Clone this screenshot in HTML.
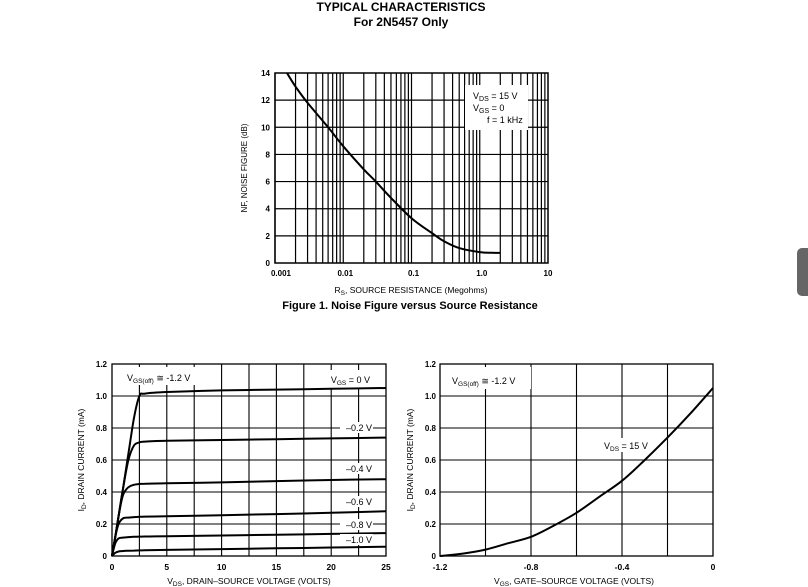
<!DOCTYPE html>
<html><head><meta charset="utf-8">
<style>
body{margin:0;background:#fff;width:808px;height:587px;overflow:hidden;font-family:"Liberation Sans",sans-serif;}
svg{position:absolute;left:0;top:0}
text{font-family:"Liberation Sans",sans-serif;fill:#000}
</style></head>
<body>
<svg id="s" width="808" height="587">
<text x="401" y="11" font-size="12" font-weight="bold" text-anchor="middle">TYPICAL CHARACTERISTICS</text>
<text x="401" y="26" font-size="12" font-weight="bold" text-anchor="middle">For 2N5457 Only</text>
<text x="410" y="309" font-size="11" font-weight="bold" text-anchor="middle">Figure 1. Noise Figure versus Source Resistance</text>
<rect x="797" y="248" width="16" height="48" rx="5" fill="#666"/>
<g id="g1"></g><g id="g2"></g><g id="g3"></g>
</svg>
<script>
// Figure 1 data
const nfRs=[0.0015,0.002,0.003,0.006,0.01,0.02,0.03,0.05,0.1,0.2,0.3,0.5,1.0,1.5,2.0];
const nfDb=[14,13,11.8,10,8.6,6.9,6.0,4.8,3.3,2.2,1.6,1.1,0.8,0.75,0.75];
const nfYTicks=[0,2,4,6,8,10,12,14];
const nfXTicks=[0.001,0.01,0.1,1.0,10];
const nfXLabels=["0.001","0.01","0.1","1.0","10"];
// Figure 2 data
const vdsTicks=[0,5,10,15,20,25];
const idTicks=[0,0.2,0.4,0.6,0.8,1.0,1.2];
const idTickLabels=["0","0.2","0.4","0.6","0.8","1.0","1.2"];
const vgsCurveLabels=["VGS = 0 V","-0.2 V","-0.4 V","-0.6 V","-0.8 V","-1.0 V"];
const curveVds=[0,0.3,0.6,1.0,1.5,2.0,2.5,3,5,10,15,20,25];
const curve0=[0,0.12,0.25,0.42,0.64,0.86,1.0,1.015,1.025,1.035,1.04,1.045,1.05];
const curve02=[0,0.12,0.25,0.42,0.6,0.69,0.71,0.715,0.72,0.725,0.73,0.735,0.74];
const curve04=[0,0.12,0.25,0.38,0.43,0.445,0.45,0.452,0.455,0.46,0.468,0.475,0.48];
const curve06=[0,0.12,0.2,0.235,0.24,0.243,0.245,0.246,0.248,0.255,0.262,0.27,0.28];
const curve08=[0,0.08,0.11,0.115,0.118,0.12,0.121,0.122,0.124,0.128,0.133,0.138,0.143];
const curve10=[0,0.02,0.028,0.031,0.033,0.034,0.035,0.036,0.038,0.043,0.048,0.053,0.058];
// Figure 3 data
const vgsVals=[-1.2,-1.1,-1.0,-0.9,-0.8,-0.7,-0.6,-0.5,-0.4,-0.3,-0.2,-0.1,0];
const idVals=[0,0.015,0.04,0.08,0.12,0.19,0.27,0.37,0.47,0.6,0.74,0.89,1.05];
const vgsTicks=[-1.2,-0.8,-0.4,0];

const NS="http://www.w3.org/2000/svg";
function el(p,t,a){const e=document.createElementNS(NS,t);for(const k in a)e.setAttribute(k,a[k]);p.appendChild(e);return e;}
function line(p,x1,y1,x2,y2,w){return el(p,'line',{x1,y1,x2,y2,stroke:'#000','stroke-width':w});}
function txt(p,x,y,s,a,fs){const t=el(p,'text',{x,y,'font-size':fs||9,'text-anchor':a||'middle'});t.textContent=s;return t;}
function smooth(pts){let d='M'+pts[0][0].toFixed(1)+','+pts[0][1].toFixed(1);
for(let i=0;i<pts.length-1;i++){const p0=pts[Math.max(0,i-1)],p1=pts[i],p2=pts[i+1],p3=pts[Math.min(pts.length-1,i+2)];
const c1x=p1[0]+(p2[0]-p0[0])/6,c1y=p1[1]+(p2[1]-p0[1])/6,c2x=p2[0]-(p3[0]-p1[0])/6,c2y=p2[1]-(p3[1]-p1[1])/6;
d+='C'+c1x.toFixed(1)+','+c1y.toFixed(1)+' '+c2x.toFixed(1)+','+c2y.toFixed(1)+' '+p2[0].toFixed(1)+','+p2[1].toFixed(1);}return d;}

// ---------- Figure 1
(function(){
const g=document.getElementById('g1');
const L=275,R=548,T=73,B=263;
const xs=v=>L+(Math.log10(v)+3)/4*(R-L);
const ys=v=>B-v/14*(B-T);
for(let d=-3;d<1;d++)for(let m=1;m<10;m++){const x=xs(m*Math.pow(10,d));const l=line(g,x,T,x,B,1.2);}
for(let v=2;v<14;v+=2){const l=line(g,L,ys(v),R,ys(v),1.2);}
el(g,'rect',{x:L,y:T,width:R-L,height:B-T,fill:'none',stroke:'#000','stroke-width':1.5});
const box=el(g,'rect',{x:465,y:85,width:63,height:45,fill:'#fff'});

const t1=txt(g,473,99,'',"start",9);t1.innerHTML='V<tspan font-size="7" dy="2">DS</tspan><tspan dy="-2"> = 15 V</tspan>';
const t2=txt(g,473,111,'',"start",9);t2.innerHTML='V<tspan font-size="7" dy="2">GS</tspan><tspan dy="-2"> = 0</tspan>';
txt(g,487,123,'f = 1 kHz','start',9);
const p=el(g,'path',{d:smooth(nfRs.map((v,i)=>[xs(v),ys(nfDb[i])])),fill:'none',stroke:'#000','stroke-width':2});

nfYTicks.forEach(v=>{const t=txt(g,270,ys(v)+3,String(v),'end',8);t.setAttribute('font-weight','bold');});
nfXTicks.forEach((v,i)=>{const t=txt(g,xs(v)+(i==0?6:i==4?0:2),276,nfXLabels[i],'middle',8);t.setAttribute('font-weight','bold');});
const xt=txt(g,411,293,'','middle',8.5);xt.innerHTML='R<tspan font-size="6.5" dy="2">S</tspan><tspan dy="-2">, SOURCE RESISTANCE (Megohms)</tspan>';

const yt=txt(g,0,0,'NF, NOISE FIGURE (dB)','middle',8);yt.setAttribute('transform','translate(247,168) rotate(-90)');

})();

// ---------- Figure 2
(function(){
const g=document.getElementById('g2');
const L=112,R=386,T=364,B=556;
const xs=v=>L+v/25*(R-L), ys=v=>B-v/1.2*(B-T);
for(let v=2.5;v<25;v+=2.5){const l=line(g,xs(v),T,xs(v),B,1.1);}
for(let v=0.2;v<1.2;v+=0.2){const l=line(g,L,ys(v),R,ys(v),1.1);}
el(g,'rect',{x:L,y:T,width:R-L,height:B-T,fill:'none',stroke:'#000','stroke-width':1.3});
el(g,'rect',{x:120,y:367,width:84,height:18,fill:'#fff'});
el(g,'rect',{x:320,y:370,width:60,height:18,fill:'#fff'});
const h=txt(g,127,381,'','start',9);h.innerHTML='V<tspan font-size="6.5" dy="2">GS(off)</tspan><tspan dy="-2"> ≅ -1.2 V</tspan>';

const curves=[curve0,curve02,curve04,curve06,curve08,curve10];
const labY=[383,431,472,505,528,543];
curves.forEach((c,k)=>{
const p=el(g,'path',{d:smooth(c.map((v,i)=>[xs(curveVds[i]),ys(v)])),fill:'none',stroke:'#000','stroke-width':2,'stroke-linejoin':'round'});

if(k>0)el(g,'rect',{x:340,y:labY[k]-9,width:33,height:11,fill:'#fff'});
let t;
if(k==0){t=txt(g,370,labY[0],'','end',9);t.innerHTML='V<tspan font-size="6.5" dy="2">GS</tspan><tspan dy="-2"> = 0 V</tspan>';}
else t=txt(g,372,labY[k],vgsCurveLabels[k].replace('-','–'),'end',9);
});
idTicks.forEach((v,i)=>{const t=txt(g,107,ys(v)+3,idTickLabels[i],'end',8);t.setAttribute('font-weight','bold');});
vdsTicks.forEach(v=>{const t=txt(g,xs(v),570,String(v),'middle',8.5);t.setAttribute('font-weight','bold');});
const xt=txt(g,249,584,'','middle',8.5);xt.innerHTML='V<tspan font-size="6.5" dy="2">DS</tspan><tspan dy="-2">, DRAIN–SOURCE VOLTAGE (VOLTS)</tspan>';

const yt=txt(g,0,0,'','middle',8.5);yt.innerHTML='I<tspan font-size="6.5" dy="2">D</tspan><tspan dy="-2">, DRAIN CURRENT (mA)</tspan>';yt.setAttribute('transform','translate(84,460) rotate(-90)');

})();

// ---------- Figure 3
(function(){
const g=document.getElementById('g3');
const L=440,R=713,T=364,B=556;
const xs=v=>L+(v+1.2)/1.2*(R-L), ys=v=>B-v/1.2*(B-T);
for(let v=-1.0;v<-0.05;v+=0.2){const l=line(g,xs(v),T,xs(v),B,1.1);}
for(let v=0.2;v<1.2;v+=0.2){const l=line(g,L,ys(v),R,ys(v),1.1);}
el(g,'rect',{x:L,y:T,width:R-L,height:B-T,fill:'none',stroke:'#000','stroke-width':1.3});
el(g,'rect',{x:443,y:367,width:88,height:22,fill:'#fff'});
const h=txt(g,452,384,'','start',9);h.innerHTML='V<tspan font-size="6.5" dy="2">GS(off)</tspan><tspan dy="-2"> ≅ -1.2 V</tspan>';

el(g,'rect',{x:600,y:438,width:50,height:14,fill:'#fff'});
const p=el(g,'path',{d:smooth(vgsVals.map((v,i)=>[xs(v),ys(idVals[i])])),fill:'none',stroke:'#000','stroke-width':2});

const lb=txt(g,604,449,'','start',9);lb.innerHTML='V<tspan font-size="6.5" dy="2">DS</tspan><tspan dy="-2"> = 15 V</tspan>';

idTicks.forEach((v,i)=>{const t=txt(g,436,ys(v)+3,idTickLabels[i],'end',8);t.setAttribute('font-weight','bold');});
vgsTicks.forEach(v=>{const t=txt(g,xs(v),570,v==0?'0':String(v),'middle',8.5);t.setAttribute('font-weight','bold');});
const xt=txt(g,574,584,'','middle',8.5);xt.innerHTML='V<tspan font-size="6.5" dy="2">GS</tspan><tspan dy="-2">, GATE–SOURCE  VOLTAGE (VOLTS)</tspan>';

const yt=txt(g,0,0,'','middle',8.5);yt.innerHTML='I<tspan font-size="6.5" dy="2">D</tspan><tspan dy="-2">, DRAIN CURRENT (mA)</tspan>';yt.setAttribute('transform','translate(413,460) rotate(-90)');

})();
</script>
</body></html>
